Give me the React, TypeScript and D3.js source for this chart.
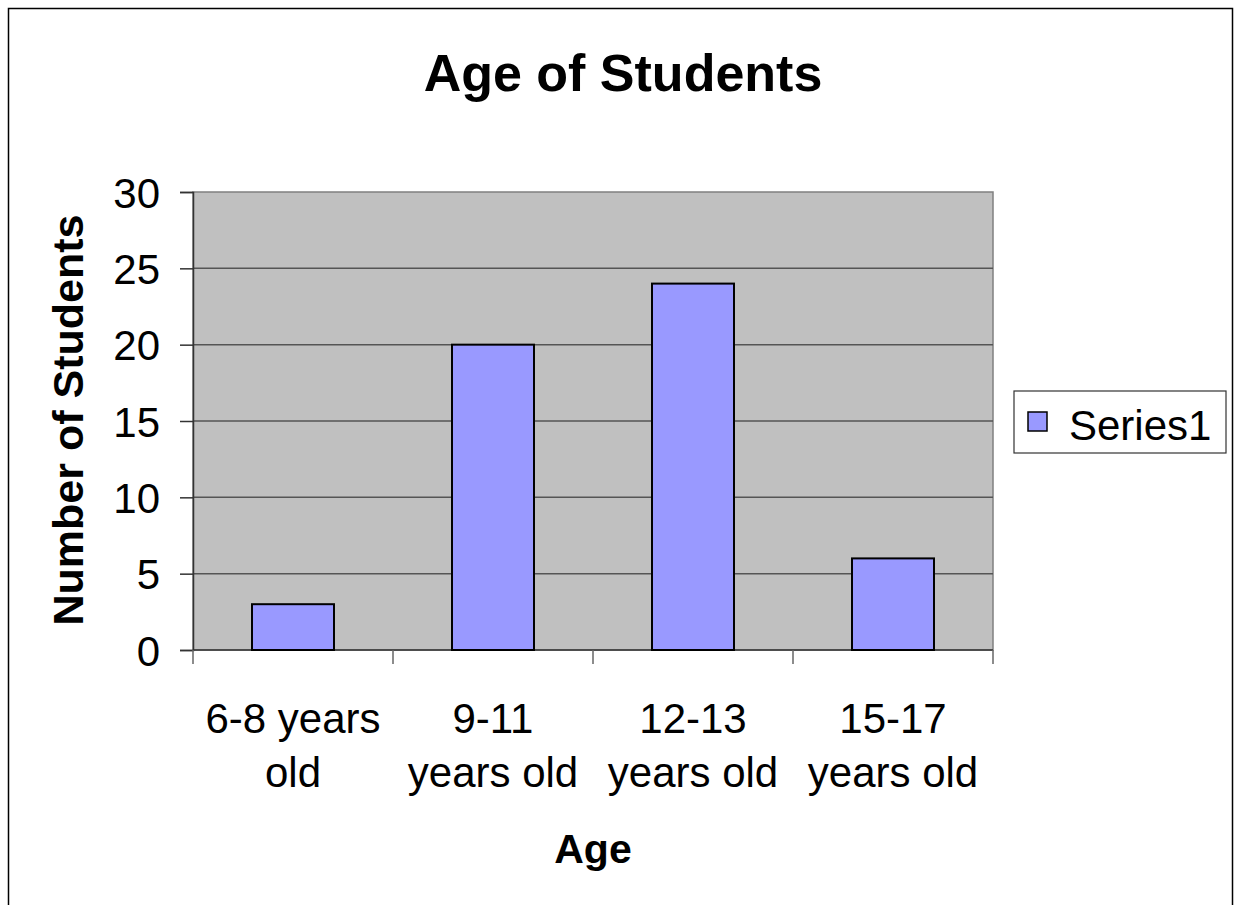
import React, { useEffect, useRef } from "react";
import * as d3 from "d3";

const categories = ["6-8 years old", "9-11 years old", "12-13 years old", "15-17 years old"];
const categoryLines = [["6-8 years", "old"], ["9-11", "years old"], ["12-13", "years old"], ["15-17", "years old"]];
const values = [3, 20, 24, 6];
const yTicks = [0, 5, 10, 15, 20, 25, 30];
const seriesName = "Series1";

const W = 1235;
const H = 905;
const margin = { left: 193, top: 192, right: 993, bottom: 650 };
const font = "'Liberation Sans', Arial, sans-serif";

export default function App() {
  const svgRef = useRef<SVGSVGElement>(null);

  useEffect(() => {
    const svg = d3.select(svgRef.current);
    svg.selectAll("*").remove();

    const x = d3.scaleBand().domain(categories).range([margin.left, margin.right]).paddingInner(0.59).paddingOuter(0.295);
    const xOuter = d3.scaleBand().domain(categories).range([margin.left, margin.right]);
    const y = d3.scaleLinear().domain([0, 30]).range([margin.bottom, margin.top]);

    // outer frame
    svg.append("rect").attr("x", 8.5).attr("y", 8.5).attr("width", 1224).attr("height", 920)
      .attr("fill", "white").attr("stroke", "#000").attr("stroke-width", 1.5);

    svg.append("text").attr("x", 623).attr("y", 91).attr("text-anchor", "middle")
      .attr("font-family", font).attr("font-weight", "bold").attr("font-size", 52).text("Age of Students");

    // plot area
    svg.append("rect").attr("x", margin.left).attr("y", margin.top)
      .attr("width", margin.right - margin.left).attr("height", margin.bottom - margin.top)
      .attr("fill", "#C0C0C0").attr("stroke", "#808080").attr("stroke-width", 1.5);

    svg.append("g").selectAll("line").data(yTicks.filter((t) => t > 0 && t < 30)).join("line")
      .attr("x1", margin.left).attr("x2", margin.right)
      .attr("y1", (d) => y(d)).attr("y2", (d) => y(d))
      .attr("stroke", "#555").attr("stroke-width", 1.5);

    // y axis
    const yAxis = svg.append("g").attr("transform", `translate(${margin.left},0)`)
      .call(d3.axisLeft(y).tickValues(yTicks).tickSize(13).tickPadding(20));
    yAxis.select(".domain").attr("stroke", "#333").attr("stroke-width", 1.5);
    yAxis.selectAll(".tick line").attr("stroke", "#333").attr("stroke-width", 1.5);
    yAxis.selectAll("text").attr("font-family", font).attr("font-size", 42).attr("fill", "#000").attr("dy", "0.36em");

    // x axis
    const xAxis = svg.append("g").attr("transform", `translate(0,${margin.bottom})`);
    xAxis.append("line").attr("x1", margin.left).attr("x2", margin.right).attr("stroke", "#333").attr("stroke-width", 1.5);
    const xTickPos = categories.map((c) => xOuter(c)!).concat([margin.right]);
    xAxis.selectAll(".xt").data(xTickPos).join("line").attr("class", "xt")
      .attr("x1", (d) => d).attr("x2", (d) => d).attr("y1", 0).attr("y2", 14)
      .attr("stroke", "#666").attr("stroke-width", 1.5);

    svg.append("g").selectAll("rect").data(values).join("rect")
      .attr("x", (_, i) => x(categories[i])!)
      .attr("width", x.bandwidth())
      .attr("y", (d) => y(d))
      .attr("height", (d) => y(0) - y(d))
      .attr("fill", "#9999FF").attr("stroke", "#000").attr("stroke-width", 2);

    const labels = svg.append("g").selectAll("text").data(categoryLines).join("text")
      .attr("text-anchor", "middle").attr("font-family", font).attr("font-size", 42);
    labels.each(function (lines, i) {
      const t = d3.select(this);
      const cx = xOuter(categories[i])! + xOuter.bandwidth() / 2;
      lines.forEach((ln, j) => {
        t.append("tspan").attr("x", cx).attr("y", 733 + j * 54).text(ln);
      });
    });

    svg.append("text").attr("x", 593).attr("y", 863).attr("text-anchor", "middle")
      .attr("font-family", font).attr("font-weight", "bold").attr("font-size", 41).text("Age");

    svg.append("text").attr("transform", `translate(83,${(margin.top + margin.bottom) / 2 - 1}) rotate(-90)`)
      .attr("text-anchor", "middle").attr("font-family", font).attr("font-weight", "bold").attr("font-size", 43)
      .text("Number of Students");

    // legend
    const lg = svg.append("g");
    lg.append("rect").attr("x", 1014).attr("y", 391).attr("width", 212).attr("height", 62)
      .attr("fill", "white").attr("stroke", "#333").attr("stroke-width", 1.2);
    lg.append("rect").attr("x", 1028).attr("y", 412).attr("width", 19).attr("height", 19)
      .attr("fill", "#9999FF").attr("stroke", "#000").attr("stroke-width", 1.5);
    lg.append("text").attr("x", 1069).attr("y", 440).attr("font-family", font).attr("font-size", 42).text(seriesName);
  }, []);

  return <svg ref={svgRef} width={W} height={H} style={{ position: "absolute", left: 0, top: 0 }} />;
}
